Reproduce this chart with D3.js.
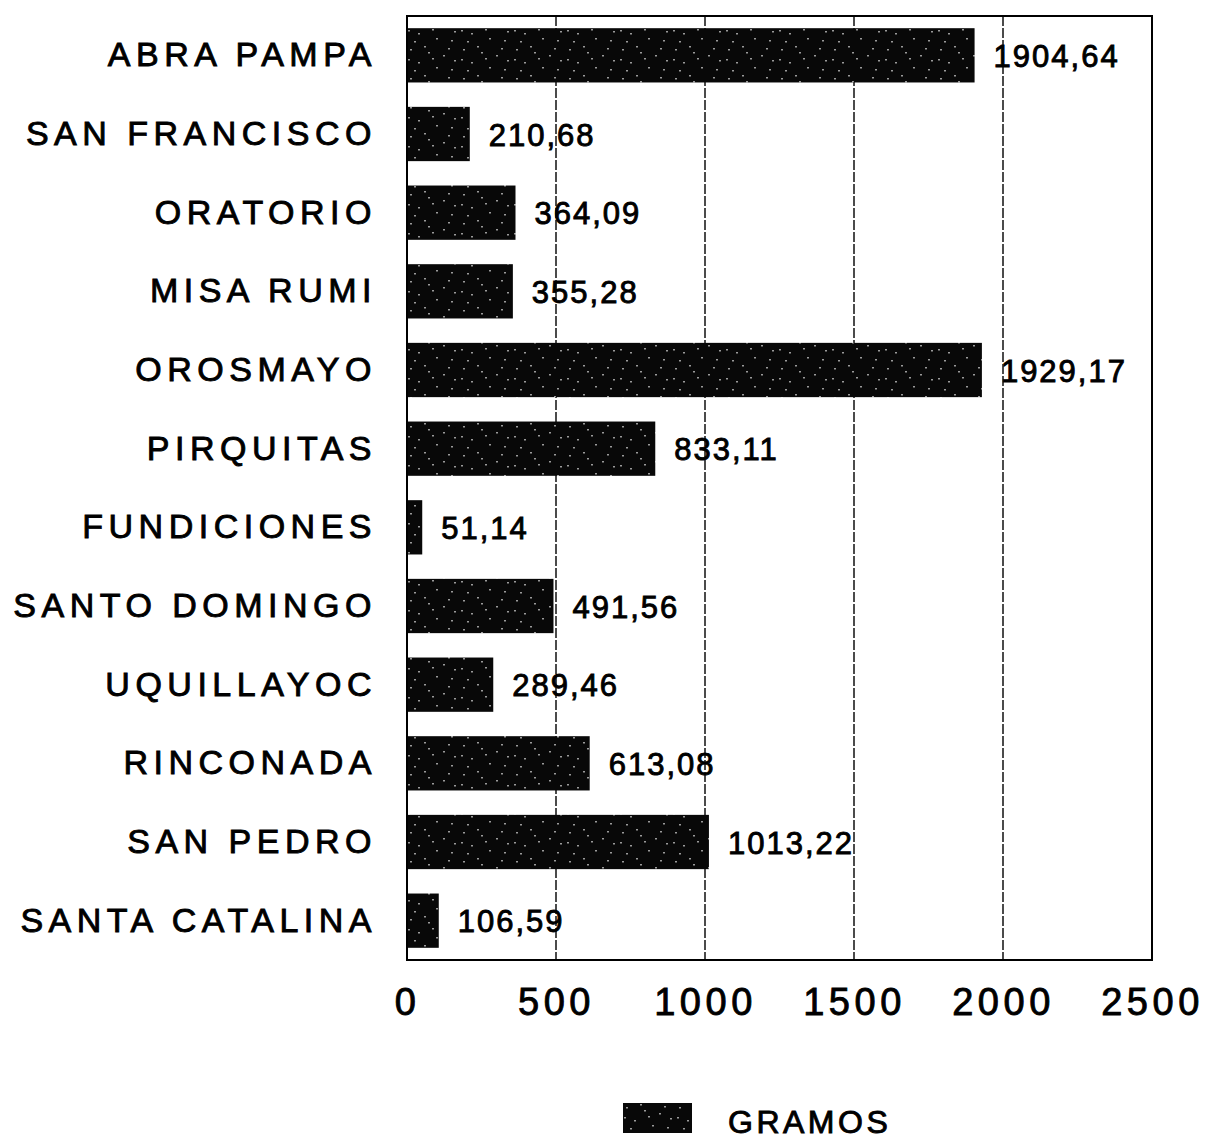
<!DOCTYPE html>
<html>
<head>
<meta charset="utf-8">
<script src="https://cdn.jsdelivr.net/npm/d3@7"></script>
<style>
  body { margin: 0; background: #fff; }
  svg { display: block; font-family: "Liberation Sans", Arial, Helvetica, sans-serif; }
  .heavy { stroke: #000; stroke-width: 0.9px; }
</style>
</head>
<body>
<div class="chart"></div>
<script>
const categories = ["ABRA PAMPA", "SAN FRANCISCO", "ORATORIO", "MISA RUMI", "OROSMAYO", "PIRQUITAS",
    "FUNDICIONES", "SANTO DOMINGO", "UQUILLAYOC", "RINCONADA", "SAN PEDRO", "SANTA CATALINA"]
const gramos = [1904.64, 210.68, 364.09, 355.28, 1929.17, 833.11, 51.14, 491.56, 289.46, 613.08, 1013.22, 106.59]
const valueLabels = ["1904,64", "210,68", "364,09", "355,28", "1929,17", "833,11", "51,14", "491,56", "289,46", "613,08", "1013,22", "106,59"]
const xTicks = [0, 500, 1000, 1500, 2000, 2500]
const seriesName = "GRAMOS"

const width = 1207,
    height = 1144,
    margin = {
        top: 16,
        right: 55,
        bottom: 184,
        left: 407
    }
const innerW = width - margin.left - margin.right
const innerH = height - margin.top - margin.bottom

const svg = d3.select(".chart").append("svg")
    .attr("width", width)
    .attr("height", height)

// speckled black fill, like the photocopied original
const defs = svg.append("defs")
const pat = defs.append("pattern")
    .attr("id", "speckle")
    .attr("patternUnits", "userSpaceOnUse")
    .attr("width", 53)
    .attr("height", 29)
pat.append("rect").attr("width", 53).attr("height", 29).attr("fill", "#080808")
const specks = [[3, 4], [11, 17], [21, 7], [29, 22], [41, 3], [7, 25], [25, 13], [47, 15], [36, 10], [1, 14], [17, 1], [44, 24]]
pat.selectAll("rect.s")
    .data(specks)
    .enter().append("rect")
    .attr("class", "s")
    .attr("x", d => d[0])
    .attr("y", d => d[1])
    .attr("width", 2)
    .attr("height", 1.5)
    .attr("fill", "#9a9a9a")

const g = svg.append("g")
    .attr("transform", `translate(${margin.left},${margin.top})`)

const x = d3.scaleLinear().domain([0, 2500]).range([0, innerW])
const y = d3.scaleBand().domain(categories).range([0, innerH]).paddingInner(0.31).paddingOuter(0.155)

// grid lines
g.append("g")
    .attr("class", "grid")
    .selectAll("line")
    .data(xTicks.slice(1, -1))
    .enter().append("line")
    .attr("x1", d => x(d))
    .attr("x2", d => x(d))
    .attr("y1", 0)
    .attr("y2", innerH)
    .attr("stroke", "#111")
    .attr("stroke-width", 1.5)
    .attr("stroke-dasharray", "10,2")

// bars
g.selectAll(".bar")
    .data(gramos)
    .enter().append("rect")
    .attr("class", "bar")
    .attr("x", x(0))
    .attr("y", (d, i) => y(categories[i]))
    .attr("width", d => x(d) - x(0))
    .attr("height", y.bandwidth())
    .attr("fill", "url(#speckle)")

// value labels
g.selectAll(".val")
    .data(gramos)
    .enter().append("text")
    .attr("class", "val heavy")
    .attr("x", d => x(d) + 19)
    .attr("y", (d, i) => y(categories[i]) + y.bandwidth() / 2)
    .attr("dy", "0.38em")
    .attr("font-size", 31)
    .attr("letter-spacing", 2)
    .attr("fill", "#000")
    .text((d, i) => valueLabels[i])

// frame
g.append("rect")
    .attr("x", 0)
    .attr("y", 0)
    .attr("width", innerW)
    .attr("height", innerH)
    .attr("fill", "none")
    .attr("stroke", "#000")
    .attr("stroke-width", 2)

// category axis
const yAxis = g.append("g")
    .call(d3.axisLeft(y).tickSize(0).tickPadding(30))
yAxis.select(".domain").remove()
yAxis.selectAll("text")
    .attr("class", "heavy")
    .attr("font-size", 34)
    .attr("letter-spacing", 5.5)
    .attr("fill", "#000")
    .attr("font-family", null)

// value axis
const xAxis = g.append("g")
    .attr("transform", `translate(0,${innerH})`)
    .call(d3.axisBottom(x).tickValues(xTicks).tickSize(0).tickPadding(28).tickFormat(d3.format("d")))
xAxis.select(".domain").remove()
xAxis.selectAll("text")
    .attr("class", "heavy")
    .attr("font-size", 38)
    .attr("letter-spacing", 4.5)
    .attr("fill", "#000")
    .attr("font-family", null)

// legend
const legend = svg.append("g")
    .attr("transform", "translate(623,1103)")
legend.append("rect")
    .attr("width", 69)
    .attr("height", 30)
    .attr("fill", "url(#speckle)")
legend.append("text")
    .attr("class", "heavy")
    .attr("x", 105)
    .attr("y", 30)
    .attr("font-size", 32)
    .attr("letter-spacing", 3.5)
    .attr("fill", "#000")
    .text(seriesName)
</script>
</body>
</html>
